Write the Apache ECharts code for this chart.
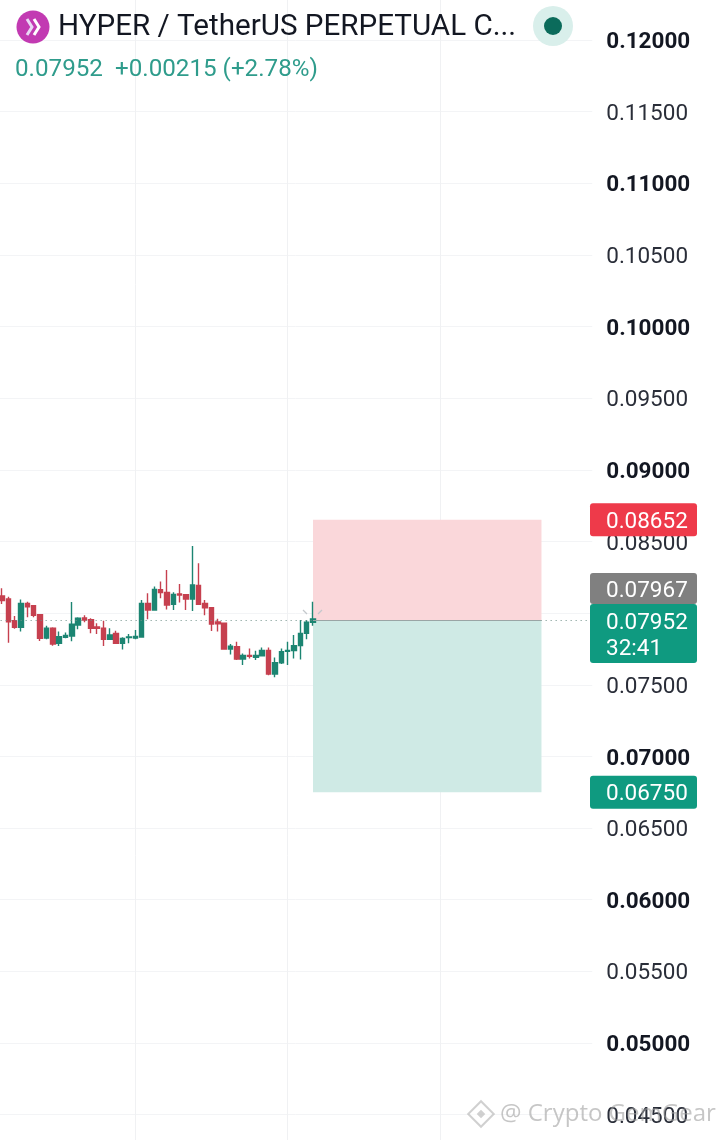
<!DOCTYPE html>
<html><head><meta charset="utf-8">
<style>html,body{margin:0;padding:0;background:#fff}#c{width:720px;height:1140px}</style>
<script src="https://cdn.jsdelivr.net/npm/echarts@6/dist/echarts.min.js"></script>
</head><body><div id="c"></div>
<script>
const opens=[.08120,.08099,.07947,.07901,.08068,.08052,.07989,.07826,.07894,.07789,.07831,.07840,.07917,.07966,.07954,.07903,.07894,.07817,.07859,.07789,.07829,.07826,.07833,.08068,.08022,.08164,.08145,.08061,.08133,.08129,.08099,.08194,.08068,.08038,.07938,.07929,.07749,.07766,.07680,.07705,.07691,.07703,.07740,.07575,.07654,.07733,.07738,.07773,.07859,.07936];
const closes=[.08087,.07940,.07901,.08068,.08045,.07985,.07824,.07894,.07784,.07836,.07845,.07922,.07964,.07952,.07894,.07894,.07817,.07847,.07789,.07824,.07833,.07838,.08068,.08022,.08166,.08143,.08057,.08131,.08126,.08099,.08196,.08061,.08038,.07924,.07926,.07749,.07770,.07680,.07705,.07698,.07705,.07740,.07575,.07654,.07731,.07740,.07773,.07859,.07936,.07959];
const lows=[.08064,.07794,.07891,.07871,.07971,.07971,.07805,.07817,.07773,.07770,.07824,.07803,.07887,.07936,.07859,.07854,.07770,.07815,.07784,.07747,.07789,.07817,.07831,.07957,.08017,.08103,.08026,.08022,.08075,.08022,.08015,.08057,.07985,.07875,.07871,.07749,.07712,.07673,.07638,.07684,.07673,.07701,.07566,.07552,.07645,.07638,.07684,.07677,.07817,.07912];
const highs=[.08173,.08115,.07980,.08096,.08080,.08057,.07994,.07912,.07901,.07871,.07864,.08078,.07971,.07985,.07964,.07929,.07947,.07894,.07877,.07831,.07854,.07882,.08092,.08138,.08185,.08220,.08301,.08145,.08203,.08133,.08468,.08348,.08092,.08040,.07961,.07929,.07784,.07801,.07719,.07754,.07738,.07761,.07761,.07691,.07754,.07801,.07847,.07952,.07952,.08080];
const lastPrice=0.07952, stopPrice=0.08652, targetPrice=0.06750, markPrice=0.07967;
const tagValues=[stopPrice,targetPrice,markPrice,lastPrice];
const tagTexts=['0.08652','0.06750','0.07967','0.07952\n32:41'];
const tagColors=['#ee3a4a','#0f9a80','#808080','#0f9a80'];

const LEAD=1, TOTAL=95, BOX_START=String(49+LEAD), BOX_END=86.25;
const categories=Array.from({length:TOTAL},(_,i)=>String(i));
const candles=[['-','-','-','-']].concat(opens.map((o,i)=>[o,closes[i],lows[i],highs[i]]));
const gridLineAt=[22,46,70];
const tagLayout=[null,null,{top:573,h:31},{top:604,h:59}];

const chart=echarts.init(document.getElementById('c'),null,{renderer:'canvas'});
const FONT='Roboto';
chart.setOption({
  animation:false,backgroundColor:'#fff',
  grid:{left:-4.35,width:596.6,top:-31.64,height:1217.9,outerBoundsMode:'none',containLabel:false},
  xAxis:{type:'category',data:categories,boundaryGap:false,
    axisLine:{show:false},axisTick:{show:false},axisLabel:{show:false},
    splitLine:{show:true,interval:(i)=>gridLineAt.includes(i),lineStyle:{color:'#f0f1f3',width:1}}},
  yAxis:{type:'value',position:'right',min:0.04,max:0.125,interval:0.005,
    axisLine:{show:false},axisTick:{show:false},
    splitLine:{show:true,lineStyle:{color:'#f3f4f6',width:1}},
    axisLabel:{margin:14,align:'left',fontFamily:FONT,fontSize:22.5,color:'#222',
      formatter:v=>{const s=v.toFixed(5);return Math.round(v*1e5)%1000===0?'{b|'+s+'}':'{n|'+s+'}';},
      rich:{b:{fontFamily:FONT,fontSize:22.5,fontWeight:'bold',color:'#131722',padding:[5,0,0,0]},n:{fontFamily:FONT,fontSize:22.5,color:'#2a2e39',padding:[5,0,0,0]}}}},
  series:[
   {type:'candlestick',data:candles,barWidth:5,z:3,
    itemStyle:{color:'#1c8572',color0:'#c6404f',borderColor:'#1c8572',borderColor0:'#c6404f',borderWidth:1.4},
    markLine:{silent:true,symbol:'none',animation:false,label:{show:false},z:4,
      data:[[{xAxis:'0',yAxis:lastPrice,lineStyle:{type:[1,4],color:'#6f8f88',width:1}},{xAxis:String(TOTAL-1),yAxis:lastPrice}],
            [{xAxis:BOX_START,yAxis:lastPrice,lineStyle:{type:'solid',color:'#9aa5a5',width:1}},{xAxis:BOX_END,yAxis:lastPrice}]]},
    markArea:{silent:true,animation:false,label:{show:false},
      data:[[{xAxis:BOX_START,yAxis:stopPrice,itemStyle:{color:'#fad7da'}},{xAxis:BOX_END,yAxis:lastPrice}],
            [{xAxis:BOX_START,yAxis:lastPrice,itemStyle:{color:'#cfeae5'}},{xAxis:BOX_END,yAxis:targetPrice}]]}},
   {type:'custom',z:20,silent:true,clip:false,
    data:tagValues.map((v,i)=>[0,v,i]),encode:{x:0,y:1},
    renderItem:(p,api)=>{
      const i=api.value(2), y=api.coord([0,api.value(1)])[1], L=tagLayout[i];
      const h=L?L.h:33, top=L?L.top:y-h/2;
      return {type:'group',children:[
        {type:'rect',shape:{x:590,y:top,width:107,height:h,r:3},style:{fill:tagColors[i]}},
        {type:'text',style:{x:606,y:top+h/2+2.5,text:tagTexts[i],fill:'#fff',font:'22.5px '+FONT,lineHeight:26,verticalAlign:'middle',align:'left'}}
      ]};
    }}
  ],
  graphic:[
    {type:'circle',shape:{cx:33,cy:27,r:16.5},style:{fill:'#c23ab2'},z:30},
    {type:'polyline',shape:{points:[[27,19],[32,27],[27,35]]},style:{stroke:'#e9d9f5',lineWidth:3,fill:null},z:31},
    {type:'polyline',shape:{points:[[34,19],[39,27],[34,35]]},style:{stroke:'#fff',lineWidth:3,fill:null},z:31},
    {type:'text',style:{x:58,y:28,text:'HYPER / TetherUS PERPETUAL C...',font:'29.6px '+FONT,fill:'#131722',verticalAlign:'middle'},z:30},
    {type:'text',style:{x:15,y:70,text:'0.07952  +0.00215 (+2.78%)',font:'24.2px '+FONT,fill:'#2f9c8c',verticalAlign:'middle'},z:30},
    {type:'circle',shape:{cx:553,cy:26,r:20},style:{fill:'#d9efeb'},z:30},
    {type:'circle',shape:{cx:553,cy:26,r:9},style:{fill:'#0b6b5b'},z:31},
    {type:'line',shape:{x1:303,y1:610,x2:307,y2:614},style:{stroke:'#c4c8cc',lineWidth:1.2},z:30},
    {type:'line',shape:{x1:322,y1:610,x2:318,y2:614},style:{stroke:'#c4c8cc',lineWidth:1.2},z:30},
    {type:'rect',rotation:Math.PI/4,x:481,y:1114,shape:{x:-9,y:-9,width:18,height:18},style:{fill:'rgba(255,255,255,0.6)',stroke:'rgba(170,170,170,0.55)',lineWidth:2},z:40},
    {type:'rect',rotation:Math.PI/4,x:481,y:1114,shape:{x:-3,y:-3,width:6,height:6},style:{fill:'rgba(170,170,170,0.55)'},z:41},
    {type:'text',style:{x:500,y:1114,text:'@ Crypto GemGear',font:'24px "Open Sans"',fill:'rgba(160,160,160,0.6)',verticalAlign:'middle'},z:40}
  ]
});
</script></body></html>
